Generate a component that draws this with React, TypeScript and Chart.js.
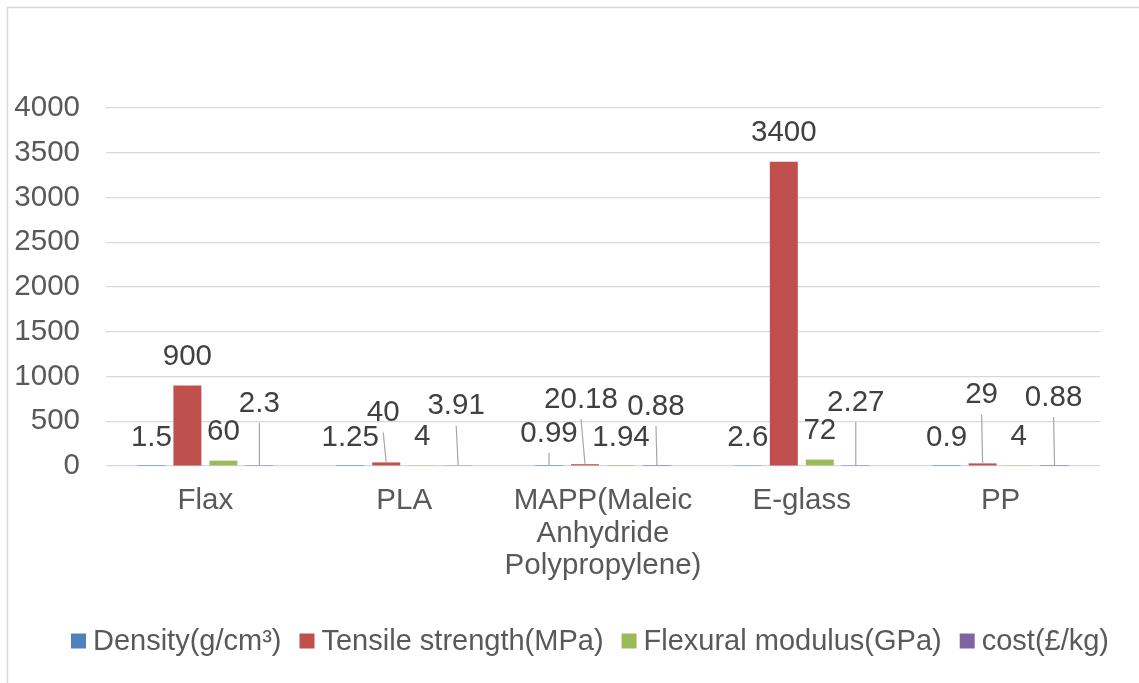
import React, { useEffect, useRef } from 'react';
import { Chart, registerables } from 'chart.js';

Chart.register(...registerables);

// ---- data ----
const categories: (string | string[])[] = [
  'Flax',
  'PLA',
  ['MAPP(Maleic', 'Anhydride', 'Polypropylene)'],
  'E-glass',
  'PP',
];
const seriesNames = ['Density(g/cm³)', 'Tensile strength(MPa)', 'Flexural modulus(GPa)', 'cost(£/kg)'];
const density = [1.5, 1.25, 0.99, 2.6, 0.9];
const tensileStrength = [900, 40, 20.18, 3400, 29];
const flexuralModulus = [60, 4, 1.94, 72, 4];
const cost = [2.3, 3.91, 0.88, 2.27, 0.88];
const yTicksMax = 4000;
const yTickStep = 500;

// ---- label layout (manual label drags, px offsets from default position) ----
const densityLabelShift = [[0, 0], [0, 0], [0, -4], [0, 0], [0, 0]];
const tensileLabelShift = [[0, 0], [-3, -21], [-4, -36], [0, 0], [-1, -40]];
const flexuralLabelShift = [[0, 0], [0, 0], [0, 0], [0, 0], [0, 0]];
const costLabelShift = [[0, -34], [-2, -31], [-1, -31], [0, -35], [-1, -40]];

const colors = ['#4F81BD', '#C0504D', '#9BBB59', '#8064A2'];
const FONT = '"Liberation Sans", Arial, sans-serif';
const FS = 29.5;
const LEGEND_FS = 29;
const TEXT = '#595959';
const LABEL = '#404040';
const GRID = '#d9d9d9';

export default function App() {
  const ref = useRef<HTMLCanvasElement>(null);

  useEffect(() => {
    const canvas = ref.current;
    if (!canvas) return;
    const shifts = [densityLabelShift, tensileLabelShift, flexuralLabelShift, costLabelShift];

    const extras = {
      id: 'excelExtras',
      beforeDraw(chart: any) {
        const ctx = chart.ctx;
        ctx.save();
        ctx.fillStyle = '#ffffff';
        ctx.fillRect(0, 0, chart.width, chart.height);
        ctx.strokeStyle = GRID;
        ctx.lineWidth = 1.5;
        ctx.strokeRect(7.5, 7.5, 1300, 1000);
        ctx.restore();
      },
      afterDatasetsDraw(chart: any) {
        const ctx = chart.ctx;
        ctx.save();
        ctx.font = `${FS}px ${FONT}`;
        ctx.textAlign = 'center';
        ctx.textBaseline = 'middle';
        chart.data.datasets.forEach((ds: any, di: number) => {
          const meta = chart.getDatasetMeta(di);
          meta.data.forEach((bar: any, i: number) => {
            const v = ds.data[i];
            const [dx, dy] = shifts[di][i];
            const lx = bar.x + dx;
            const ly = bar.y - 28.4 + dy;
            if (dx !== 0 || dy !== 0) {
              ctx.strokeStyle = '#a6a6a6';
              ctx.lineWidth = 1.2;
              ctx.beginPath();
              ctx.moveTo(lx, ly + 19.5);
              ctx.lineTo(bar.x, bar.y);
              ctx.stroke();
            }
            ctx.fillStyle = LABEL;
            ctx.fillText(String(v), lx, ly);
          });
        });

        // legend
        ctx.font = `${LEGEND_FS}px ${FONT}`;
        ctx.textAlign = 'left';
        ctx.textBaseline = 'middle';
        const box = 15;
        const boxGap = 7;
        const itemGap = 18;
        const widths = seriesNames.map((n) => box + boxGap + ctx.measureText(n).width);
        const total = widths.reduce((a, b) => a + b, 0) + itemGap * (widths.length - 1);
        let x = 590 - total / 2;
        const cy = 641;
        seriesNames.forEach((n, k) => {
          ctx.fillStyle = colors[k];
          ctx.fillRect(x, cy - box / 2, box, box);
          ctx.fillStyle = TEXT;
          ctx.fillText(n, x + box + boxGap, cy + 1);
          x += widths[k] + itemGap;
        });
        ctx.restore();
      },
    };

    const chart = new Chart(canvas, {
      type: 'bar',
      data: {
        labels: categories,
        datasets: [density, tensileStrength, flexuralModulus, cost].map((d, k) => ({
          label: seriesNames[k],
          data: d,
          backgroundColor: colors[k],
          borderWidth: 0,
          categoryPercentage: 0.724,
          barPercentage: 0.778,
        })),
      },
      options: {
        responsive: false,
        animation: false,
        devicePixelRatio: 1,
        layout: { padding: { left: 0, right: 39, top: 108, bottom: 0 } },
        plugins: {
          legend: { display: false },
          tooltip: { enabled: false },
        },
        scales: {
          x: {
            grid: { display: false, drawTicks: false },
            border: { display: false },
            ticks: {
              color: TEXT,
              font: { family: FONT, size: FS, lineHeight: 1.1 },
              padding: 19,
              maxRotation: 0,
              autoSkip: false,
            },
            afterFit(s: any) {
              s.height = 217;
            },
          },
          y: {
            min: 0,
            max: yTicksMax,
            ticks: {
              stepSize: yTickStep,
              color: TEXT,
              font: { family: FONT, size: FS },
              padding: 26,
              callback: (v: any) => String(v),
            },
            grid: { color: GRID, lineWidth: 1.2, drawTicks: false },
            border: { display: false },
            afterFit(s: any) {
              s.width = 106;
            },
          },
        },
      },
      plugins: [extras],
    } as any);

    return () => chart.destroy();
  }, []);

  return (
    <div style={{ position: 'absolute', left: 0, top: 0, width: 1139, height: 683 }}>
      <canvas ref={ref} width={1139} height={683} style={{ width: 1139, height: 683, display: 'block' }} />
    </div>
  );
}
